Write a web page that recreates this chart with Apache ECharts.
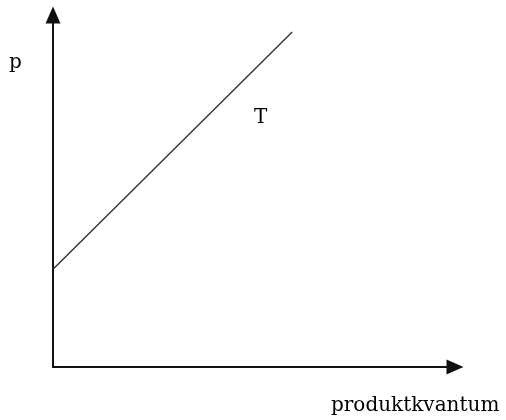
<!DOCTYPE html>
<html>
<head>
<meta charset="utf-8">
<script src="https://cdn.jsdelivr.net/npm/echarts@6/dist/echarts.min.js"></script>
<style>
  html, body { margin: 0; padding: 0; background: #fff; }
  #container { width: 506px; height: 420px; }
</style>
</head>
<body>
<div id="container"></div>
<script>
// supply curve T (p against produktkvantum), axis units 0..100
var curveX = [0, 59.5];
var curveY = [27.8, 95.2];
var xLabel = "produktkvantum";
var yLabel = "p";
var curveName = "T";

var points = [];
for (var i = 0; i < curveX.length; i++) {
    points.push([curveX[i], curveY[i]]);
}

var axisStyle = {
    show: true,
    symbol: ['none', 'triangle'],
    symbolSize: [15, 17],
    lineStyle: { color: '#111', width: 2 }
};

var option = {
    animation: false,
    backgroundColor: '#fff',
    grid: { left: 53, right: 51, top: 15, bottom: 53 },
    xAxis: {
        type: 'value', min: 0, max: 100,
        axisLine: axisStyle,
        axisTick: { show: false },
        axisLabel: { show: false },
        splitLine: { show: false }
    },
    yAxis: {
        type: 'value', min: 0, max: 100,
        axisLine: axisStyle,
        axisTick: { show: false },
        axisLabel: { show: false },
        splitLine: { show: false }
    },
    series: [{
        name: curveName,
        type: 'line',
        data: points,
        symbol: 'none',
        lineStyle: { color: '#333', width: 1.4 }
    }],
    graphic: [
        { type: 'text', left: 9, top: 53,
          style: { text: yLabel, font: '20px "DejaVu Serif"', fill: '#000' } },
        { type: 'text', left: 254, top: 108,
          style: { text: curveName, font: '20px "DejaVu Serif"', fill: '#000' } },
        { type: 'text', left: 331, top: 396,
          style: { text: xLabel, font: '20px "DejaVu Serif"', fill: '#000' } }
    ]
};

echarts.init(document.getElementById('container')).setOption(option);
</script>
</body>
</html>
